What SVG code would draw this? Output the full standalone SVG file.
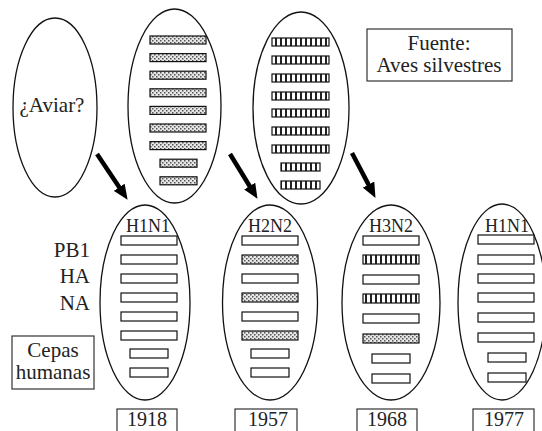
<svg xmlns="http://www.w3.org/2000/svg" width="542" height="431" viewBox="0 0 542 431">
<style>
.ell{fill:none;stroke:#111;stroke-width:1.3}
.bar{fill:#fff;stroke:#111;stroke-width:1.2}
.dot{fill:url(#dots);stroke:#111;stroke-width:1.2}
.str{fill:url(#stripes);stroke:#111;stroke-width:1.2}
.box{fill:#fff;stroke:#333;stroke-width:1.2}
text{font-family:"Liberation Serif","Times New Roman",serif;fill:#222}
.lbl{font-size:21px}
.hn{font-size:18px;text-anchor:middle}
.yr{font-size:20px;text-anchor:middle}
.arr{stroke:#000;stroke-width:4.5;fill:none;marker-end:url(#ah)}
</style>
<defs>
<pattern id="dots" patternUnits="userSpaceOnUse" width="4" height="4">
<rect width="4" height="4" fill="#e6e6e6"/>
<rect x="0" y="0" width="1.5" height="1.5" fill="#555"/>
<rect x="2" y="2" width="1.5" height="1.5" fill="#555"/>
</pattern>
<pattern id="stripes" patternUnits="userSpaceOnUse" width="5" height="5">
<rect width="5" height="5" fill="#fff"/>
<rect x="0" y="0" width="2" height="5" fill="#222"/>
</pattern>
<marker id="ah" markerUnits="userSpaceOnUse" markerWidth="15" markerHeight="13" refX="6" refY="6.5" orient="auto">
<path d="M0,0 L15,6.5 L0,13 z" fill="#000"/>
</marker>
</defs>

<g id="aviar">
<ellipse class="ell" cx="55" cy="107.5" rx="42" ry="89.5"/>
<text class="lbl" x="52" y="112" text-anchor="middle">¿Aviar?</text>
</g>

<g id="aves1">
<ellipse class="ell" cx="174.5" cy="106" rx="46.5" ry="97"/>
<rect class="dot" x="150" y="36" width="56" height="8"/>
<rect class="dot" x="150" y="53.6" width="56" height="8"/>
<rect class="dot" x="150" y="71.2" width="56" height="8"/>
<rect class="dot" x="150" y="88.8" width="56" height="8"/>
<rect class="dot" x="150" y="106.4" width="56" height="8"/>
<rect class="dot" x="150" y="124" width="56" height="8"/>
<rect class="dot" x="150" y="141.6" width="56" height="8"/>
<rect class="dot" x="160" y="159.2" width="37" height="8"/>
<rect class="dot" x="160" y="176.8" width="37" height="8"/>
</g>

<g id="aves2">
<ellipse class="ell" cx="301" cy="108" rx="48" ry="96"/>
<rect class="str" x="272" y="38" width="57" height="8"/>
<rect class="str" x="272" y="56" width="57" height="8"/>
<rect class="str" x="272" y="74" width="57" height="8"/>
<rect class="str" x="272" y="92" width="57" height="8"/>
<rect class="str" x="272" y="109" width="57" height="8"/>
<rect class="str" x="272" y="127" width="57" height="8"/>
<rect class="str" x="272" y="145" width="57" height="8"/>
<rect class="str" x="281" y="163" width="39" height="8"/>
<rect class="str" x="281" y="181" width="39" height="8"/>
</g>

<g id="fuente">
<rect class="box" x="367" y="29" width="145" height="52"/>
<text class="lbl" x="439" y="50" text-anchor="middle">Fuente:</text>
<text class="lbl" x="439" y="72" text-anchor="middle">Aves silvestres</text>
</g>

<g id="connectors">
<line class="arr" x1="97" y1="154" x2="122.6" y2="192.3"/>
<line class="arr" x1="230" y1="154" x2="252.8" y2="191.2"/>
<line class="arr" x1="352" y1="153" x2="371.3" y2="189.9"/>
</g>

<g id="segmentos">
<text class="lbl" x="90" y="257" text-anchor="end">PB1</text>
<text class="lbl" x="90" y="283" text-anchor="end">HA</text>
<text class="lbl" x="90" y="310" text-anchor="end">NA</text>
</g>

<g id="cepas">
<rect class="box" x="12" y="336" width="82" height="53"/>
<text class="lbl" x="53" y="357" text-anchor="middle">Cepas</text>
<text class="lbl" x="53" y="379" text-anchor="middle">humanas</text>
</g>

<g id="h1n1-1918">
<ellipse class="ell" cx="145" cy="302.5" rx="45" ry="97.5"/>
<text class="hn" x="148" y="232">H1N1</text>
<rect class="bar" x="121" y="236" width="56" height="9"/>
<rect class="bar" x="121" y="255" width="56" height="9"/>
<rect class="bar" x="121" y="274" width="56" height="9"/>
<rect class="bar" x="121" y="293" width="56" height="9"/>
<rect class="bar" x="121" y="312" width="56" height="9"/>
<rect class="bar" x="121" y="331" width="56" height="9"/>
<rect class="bar" x="130" y="349" width="38" height="9"/>
<rect class="bar" x="130" y="368" width="38" height="9"/>
</g>

<g id="h2n2-1957">
<ellipse class="ell" cx="270" cy="302.5" rx="47.5" ry="97.5"/>
<text class="hn" x="270" y="232">H2N2</text>
<rect class="bar" x="242" y="236" width="56" height="9"/>
<rect class="dot" x="242" y="255" width="56" height="9"/>
<rect class="bar" x="242" y="274" width="56" height="9"/>
<rect class="dot" x="242" y="293" width="56" height="9"/>
<rect class="bar" x="242" y="312" width="56" height="9"/>
<rect class="dot" x="242" y="331" width="56" height="9"/>
<rect class="bar" x="251" y="349" width="38" height="9"/>
<rect class="bar" x="251" y="368" width="38" height="9"/>
</g>

<g id="h3n2-1968">
<ellipse class="ell" cx="391" cy="302.5" rx="49" ry="97.5"/>
<text class="hn" x="391" y="232">H3N2</text>
<rect class="bar" x="363" y="236" width="56" height="9"/>
<rect class="str" x="363" y="255" width="56" height="9"/>
<rect class="bar" x="363" y="275" width="56" height="9"/>
<rect class="str" x="363" y="294" width="56" height="9"/>
<rect class="bar" x="363" y="314" width="56" height="9"/>
<rect class="dot" x="363" y="334" width="56" height="9"/>
<rect class="bar" x="372" y="354" width="38" height="9"/>
<rect class="bar" x="372" y="374" width="38" height="9"/>
</g>

<g id="h1n1-1977">
<ellipse class="ell" cx="502" cy="302" rx="44" ry="98"/>
<text class="hn" x="507" y="232">H1N1</text>
<rect class="bar" x="478" y="235" width="56" height="9"/>
<rect class="bar" x="478" y="255" width="56" height="9"/>
<rect class="bar" x="478" y="274" width="56" height="9"/>
<rect class="bar" x="478" y="293" width="56" height="9"/>
<rect class="bar" x="478" y="313" width="56" height="9"/>
<rect class="bar" x="478" y="333" width="56" height="9"/>
<rect class="bar" x="488" y="353" width="38" height="9"/>
<rect class="bar" x="488" y="373" width="38" height="9"/>
</g>

<g id="anos">
<rect class="box" x="117" y="409" width="60" height="30"/>
<text class="yr" x="147" y="426">1918</text>
<rect class="box" x="235" y="409" width="62" height="30"/>
<text class="yr" x="268" y="426">1957</text>
<rect class="box" x="357" y="409" width="60" height="30"/>
<text class="yr" x="387" y="426">1968</text>
<rect class="box" x="473" y="409" width="61" height="30"/>
<text class="yr" x="504" y="426">1977</text>
</g>
</svg>
